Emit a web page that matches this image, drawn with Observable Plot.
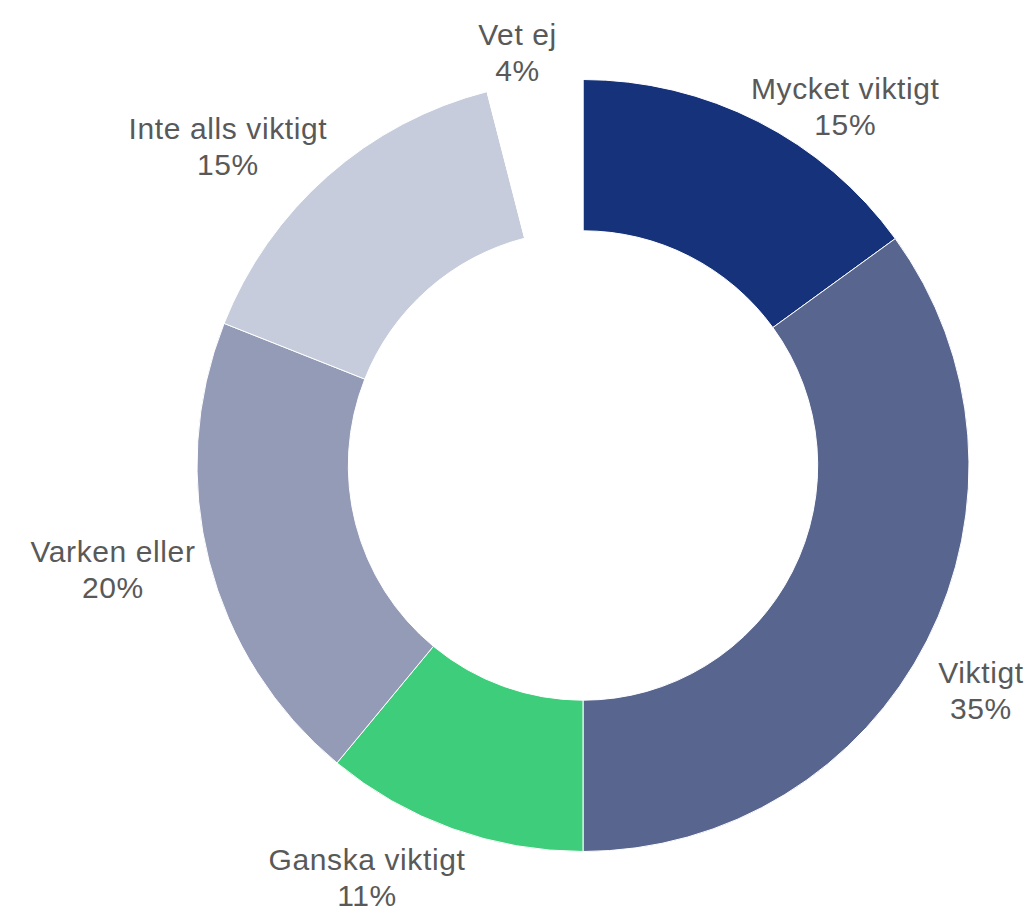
<!DOCTYPE html>
<html>
<head>
<meta charset="utf-8">
<script src="https://cdn.jsdelivr.net/npm/d3@7"></script>
<script src="https://cdn.jsdelivr.net/npm/@observablehq/plot@0.6"></script>
<style>
  html, body { margin: 0; padding: 0; background: #ffffff; }
</style>
</head>
<body>
<div id="chart"></div>
<script>
// ---- Data ----
const categories = ["Mycket viktigt", "Viktigt", "Ganska viktigt", "Varken eller", "Inte alls viktigt", "Vet ej"];
const shares = [15, 35, 11, 20, 15, 4];

// ---- Style ----
const palette = ["#15327a", "#58668f", "#3ecd7a", "#949bb7", "#c6ccdc", "#ffffff"];
const W = 1030, H = 919;
const cx = 583, cy = 465.5, R = 386;          // layout of the ring in pixels
const innerRatio = 0.608;
const fontSize = 30, lineHeight = 1.2, letterSpacing = 0.6;
const fontFamily = '"Liberation Sans", Arial, Helvetica, sans-serif';

const data = categories.map((category, i) => ({category, share: shares[i]}));
const arcs = d3.pie().sort(null).value(d => d.share)(data);

const colorScale = Plot.scale({color: {type: "ordinal", domain: categories, range: palette}});

// text width measurement for label placement
const ctx = document.createElement("canvas").getContext("2d");
ctx.font = `${fontSize}px ${fontFamily}`;

// labels sit just outside the ring, at each slice's mid angle, pushed sideways by their width
const labels = arcs.map(a => {
  const theta = (a.startAngle + a.endAngle) / 2;
  const s = Math.sin(theta), c = Math.cos(theta);
  const lines = [a.data.category, `${a.data.share}%`];
  const w = Math.max(...lines.map(t => ctx.measureText(t).width + t.length * letterSpacing));
  const rl = R * 1.11;
  const px = rl * s + Math.sign(s) * (w / 2 - 27);
  const py = -rl * c + 18 * s + 13;
  return {text: lines.join("\n"), x: px / R, y: -py / R};
});

function donut(index, scales) {
  const x = scales && scales.x ? scales.x : (v => cx + v * R);
  const y = scales && scales.y ? scales.y : (v => cy - v * R);
  const ox = x(0), oy = y(0);
  const r = x(1) - x(0);
  const arc = d3.arc().innerRadius(r * innerRatio).outerRadius(r);
  const g = d3.create("svg:g").attr("transform", `translate(${ox},${oy})`);
  g.selectAll("path")
    .data(arcs)
    .join("path")
    .attr("d", arc)
    .attr("fill", d => colorScale.apply(d.data.category))
    .attr("stroke", "#ffffff")
    .attr("stroke-width", 1);
  return g.node();
}

const chart = Plot.plot({
  width: W,
  height: H,
  margin: 0,
  x: {domain: [-cx / R, (W - cx) / R], axis: null},
  y: {domain: [-(H - cy) / R, cy / R], axis: null},
  style: {background: "#ffffff", fontFamily, letterSpacing: `${letterSpacing}px`},
  marks: [
    donut,
    Plot.text(labels, {
      x: "x",
      y: "y",
      text: "text",
      fontSize,
      lineHeight,
      lineAnchor: "middle",
      textAnchor: "middle",
      fill: "#595959"
    })
  ]
});
document.getElementById("chart").appendChild(chart);
</script>
</body>
</html>
